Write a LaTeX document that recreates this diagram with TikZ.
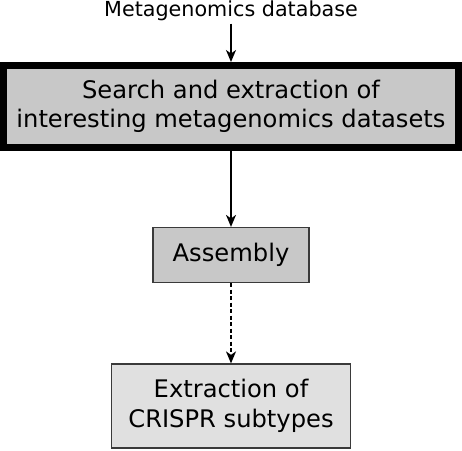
\documentclass[tikz,border=0pt]{standalone}
\usepackage{fontspec}
\setmainfont{DejaVu Sans}
\usetikzlibrary{arrows.meta}
\definecolor{boxgray}{HTML}{C8C8C8}
\definecolor{lightgray2}{HTML}{E0E0E0}
\definecolor{edgegray}{HTML}{3A3A3A}
\begin{document}
\begin{tikzpicture}[x=1pt,y=-1pt,
  flow/.style={line width=1.5pt,-{Stealth[length=12pt,width=10pt,inset=3.5pt]}},
  thinbox/.style={draw=edgegray,line width=1.2pt,inner sep=0pt,align=center,font=\fontsize{24.2}{29.5}\selectfont},
  bigbox/.style={draw=black,fill=boxgray,line width=7pt,inner sep=0pt,align=center,font=\fontsize{24.2}{29.5}\selectfont,minimum width=455pt,minimum height=82pt},
  toplabel/.style={inner sep=0pt,font=\fontsize{20.7}{24}\selectfont}]
\useasboundingbox (0,0) rectangle (462,450);
\node[toplabel,anchor=base] (db) at (231,16) {Metagenomics database};
\node[bigbox] (search) at (231,106.5) {Search and extraction of\\interesting metagenomics datasets};
\node[thinbox,fill=boxgray,minimum width=156pt,minimum height=55pt] (asm) at (231,255) {Assembly};
\node[thinbox,fill=lightgray2,minimum width=239pt,minimum height=84pt] (crispr) at (231,406) {Extraction of\\CRISPR subtypes};
\draw[flow] ([yshift=-3pt]db.south) -- (search.north);
\draw[flow] (search.south) -- (asm.north);
\draw[flow,dash pattern=on 4pt off 2.5pt] (asm.south) -- (crispr.north);
\end{tikzpicture}
\end{document}
